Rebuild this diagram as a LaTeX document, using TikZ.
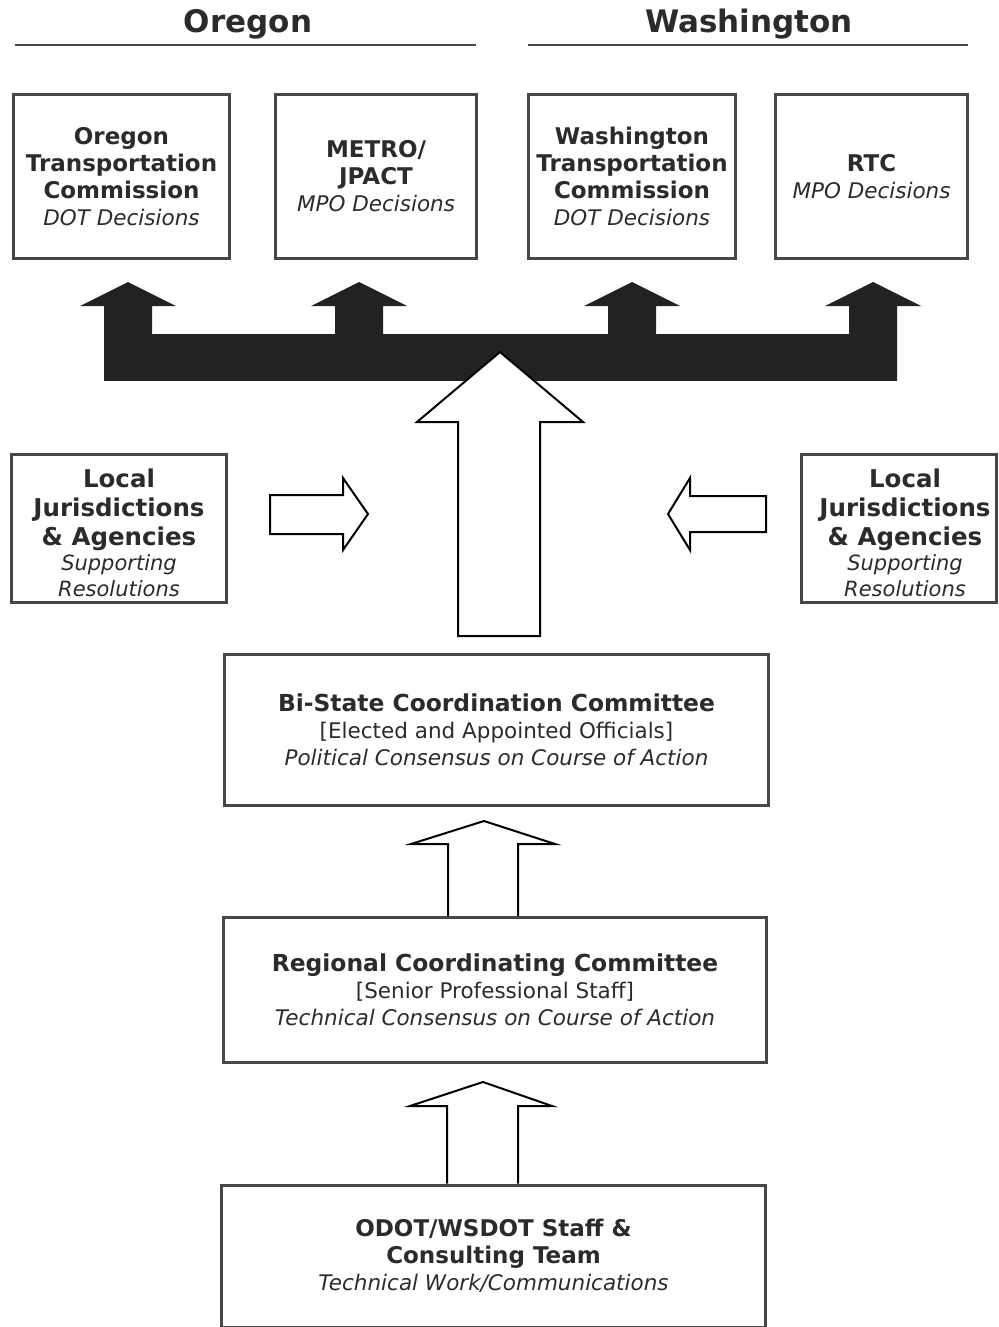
\documentclass[tikz,border=0pt]{standalone}
\usepackage{fontspec}
\setmainfont{DejaVu Sans}
\usetikzlibrary{positioning,calc}

\definecolor{ink}{HTML}{2B2B2B}
\definecolor{rim}{HTML}{474747}
\definecolor{slab}{HTML}{222222}

\newcommand{\bhead}{\fontsize{23}{27}\selectfont\bfseries}
\newcommand{\chead}{\fontsize{23.4}{27}\selectfont\bfseries}
\newcommand{\lhead}{\fontsize{24.5}{29}\selectfont\bfseries}
\newcommand{\ital}[1]{{\fontsize{21.5}{27}\selectfont\mdseries\itshape #1}}
\newcommand{\lital}[1]{{\fontsize{21}{25.5}\selectfont\mdseries\itshape #1}}
\newcommand{\plain}[1]{{\fontsize{21.5}{27}\selectfont\mdseries #1}}

\begin{document}
\begin{tikzpicture}[x=1pt,y=-1pt,
  panel/.style={draw=rim, line width=3pt, align=center, text=ink, inner sep=0pt, font=\bhead},
  boxtext/.style={align=center, text=ink, inner sep=0pt, font=\lhead},
  statehead/.style={text=ink, font=\fontsize{31}{36}\selectfont\bfseries},
  hollow/.style={draw=black, line width=2pt, line join=miter}]

\useasboundingbox (0,0) rectangle (998,1327);
\fill[white] (0,0) rectangle (998,1327);

%State headings
\node[statehead] (orhead) at (248,24.5) {Oregon};
\node[statehead] (wahead) at (749,24.5) {Washington};
\draw[rim, line width=2pt] (15,45) -- (476,45);
\draw[rim, line width=2pt] (528,45) -- (968,45);

%Decision boxes
\node[panel, minimum width=216, minimum height=163] (otc) at (121.5,176.5)
  {Oregon\\Transportation\\Commission\\\ital{DOT Decisions}};
\node[panel, minimum width=201, minimum height=163] (metro) at (376,176.5)
  {METRO/\\JPACT\\\ital{MPO Decisions}};
\node[panel, minimum width=207, minimum height=163] (wtc) at (632,176.5)
  {Washington\\Transportation\\Commission\\\ital{DOT Decisions}};
\node[panel, minimum width=192, minimum height=163] (rtc) at (871.5,176.5)
  {RTC\\\ital{MPO Decisions}};

%Black distribution arrow
\fill[slab] (104,334) rectangle (897,381);
\foreach \tx in {128,359,632,873}
  \fill[slab] (\tx-24,380) -- (\tx-24,306) -- (\tx-48,306) -- (\tx,282)
    -- (\tx+48,306) -- (\tx+24,306) -- (\tx+24,380) -- cycle;

%Big hollow arrow
\draw[hollow, fill=white] (458,636) -- (458,422) -- (417,422) -- (500,352)
  -- (583,422) -- (540,422) -- (540,636) -- cycle;

%Local boxes
\node[panel, minimum width=215, minimum height=148] (locl) at (119,528.5) {};
\node[boxtext] (locltext) at ([yshift=-4.5pt]locl.center)
  {Local\\Jurisdictions\\\& Agencies\\[-4pt]\lital{Supporting}\\[-3pt]\lital{Resolutions}};
\node[panel, minimum width=195, minimum height=148] (locr) at (899,528.5) {};
\node[boxtext] (locrtext) at ([xshift=6pt,yshift=-4.5pt]locr.center)
  {Local\\Jurisdictions\\\& Agencies\\[-4pt]\lital{Supporting}\\[-3pt]\lital{Resolutions}};

%Side arrows
\draw[hollow] (270,495) -- (343,495) -- (343,478) -- (368,514) -- (343,550)
  -- (343,534) -- (270,534) -- cycle;
\draw[hollow] (766,496) -- (690,496) -- (690,478) -- (668,514) -- (690,550)
  -- (690,532) -- (766,532) -- cycle;

%Committees
\node[panel, font=\chead, minimum width=544, minimum height=151] (bsc) at (496.5,729.5)
  {Bi-State Coordination Committee\\\plain{[Elected and Appointed Officials]}\\\ital{Political Consensus on Course of Action}};
\node[panel, font=\chead, minimum width=543, minimum height=145] (rcc) at (495,990)
  {Regional Coordinating Committee\\\plain{[Senior Professional Staff]}\\\ital{Technical Consensus on Course of Action}};
\node[panel, minimum width=544, minimum height=142] (team) at (493.5,1256)
  {ODOT/WSDOT Staff \&\\Consulting Team\\\ital{Technical Work/Communications}};

%Small arrows
\draw[hollow] (448,0 |- rcc.north) -- (448,844) -- (411,844) -- (484,821)
  -- (555,844) -- (518,844) -- (518,0 |- rcc.north);
\draw[hollow] (447,0 |- team.north) -- (447,1106) -- (410,1106) -- (483,1082)
  -- (552,1106) -- (518,1106) -- (518,0 |- team.north);
\end{tikzpicture}
\end{document}
